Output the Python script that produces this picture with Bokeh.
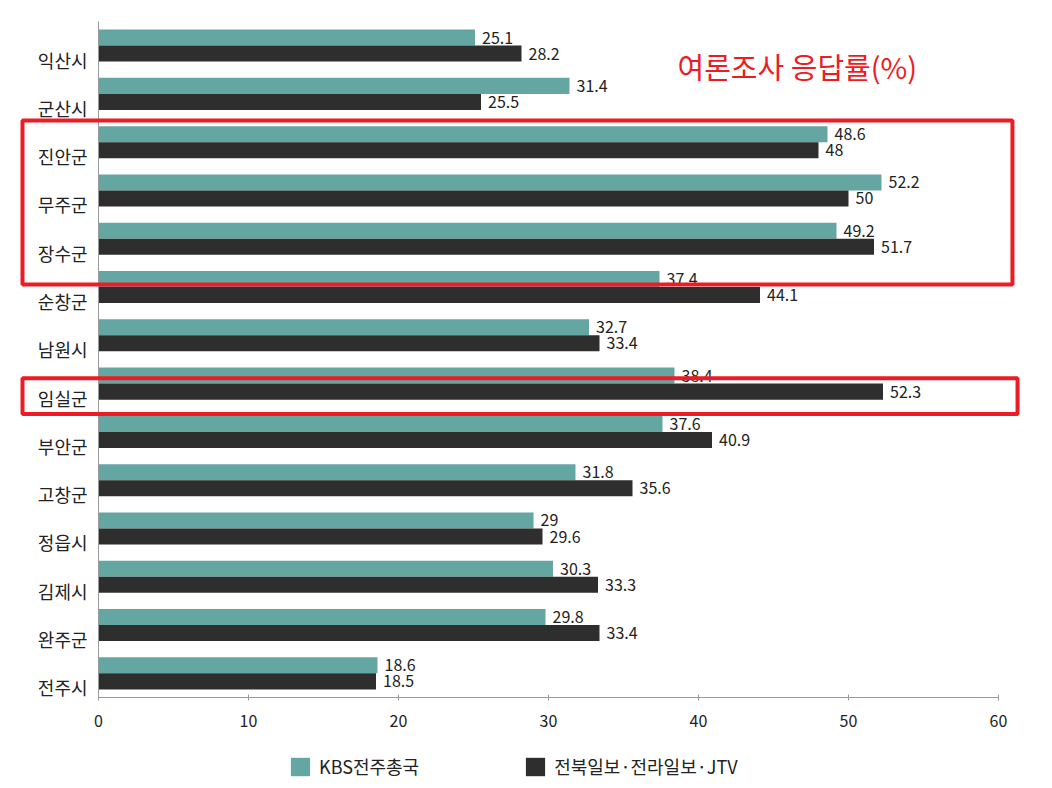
import numpy as np
from bokeh.plotting import figure
from bokeh.models import (Range1d, BoxAnnotation, Label, Legend, LegendItem, ColumnDataSource)
from bokeh.core.properties import value
from bokeh.embed import file_html
from bokeh.resources import INLINE

regions = ["익산시", "군산시", "진안군", "무주군", "장수군", "순창군", "남원시",
           "임실군", "부안군", "고창군", "정읍시", "김제시", "완주군", "전주시"]
kbs = [25.1, 31.4, 48.6, 52.2, 49.2, 37.4, 32.7, 38.4, 37.6, 31.8, 29, 30.3, 29.8, 18.6]
jtv = [28.2, 25.5, 48, 50, 51.7, 44.1, 33.4, 52.3, 40.9, 35.6, 29.6, 33.3, 33.4, 18.5]
series_names = ["KBS전주총국", "전북일보·전라일보·JTV"]
x_ticks = [0, 10, 20, 30, 40, 50, 60]
title_text = "여론조사 응답률(%)"
highlight_groups = [["진안군", "무주군", "장수군"], ["임실군"]]

FONT = "Noto Sans CJK KR"
TEAL = "#64a6a2"
DARK = "#2e2e2e"
RED = "#ed1c24"
AXIS = "#9a9a9a"
TXT = "#222222"

n = len(regions)
centers = np.array([n - 1 - i + 0.5 for i in range(n)])
off = 0.166
bar_h = 0.332

def fmt(v):
    return f"{v:g}"

src = ColumnDataSource(dict(
    region=regions, yc=centers, y_top=centers + off, y_bot=centers - off,
    kbs=kbs, jtv=jtv,
    kbs_lbl=[fmt(v) for v in kbs], jtv_lbl=[fmt(v) for v in jtv],
))

W, H = 1040, 788
x0_px, y0_px = 98, 697          # where value 0 / the bottom axis sits
px_per_x = 15.0
px_per_y = 48.29
p = figure(
    x_range=Range1d(-x0_px / px_per_x, (W - x0_px) / px_per_x),
    y_range=Range1d(-(H - y0_px) / px_per_y, y0_px / px_per_y),
    frame_width=W, frame_height=H,
    min_border=0,
    output_backend="svg", toolbar_location=None,
)
p.outline_line_color = None
p.grid.grid_line_color = None
p.axis.visible = False

r1 = p.hbar(y="y_top", right="kbs", left=0, height=bar_h, source=src,
            fill_color=TEAL, line_color=None)
r2 = p.hbar(y="y_bot", right="jtv", left=0, height=bar_h, source=src,
            fill_color=DARK, line_color=None)

p.text(x="kbs", y="y_top", text="kbs_lbl", source=src, x_offset=7,
       text_baseline="middle", text_align="left",
       text_font=value(FONT), text_font_size="16px", text_color=TXT)
p.text(x="jtv", y="y_bot", text="jtv_lbl", source=src, x_offset=7,
       text_baseline="middle", text_align="left",
       text_font=value(FONT), text_font_size="16px", text_color=TXT)

# category labels (left)
p.text(x=0, y="yc", text="region", source=src, x_offset=-11, y_offset=14,
       text_baseline="middle", text_align="right",
       text_font=value(FONT), text_font_size="18px", text_color=TXT)

# axis lines
p.segment(x0=[0], y0=[0], x1=[0], y1=[n], line_color=AXIS, line_width=1)
p.segment(x0=[x_ticks[0]], y0=[0], x1=[x_ticks[-1]], y1=[0], line_color=AXIS, line_width=1)
# ticks (crossing the axis) and tick labels
tick_src = ColumnDataSource(dict(x=x_ticks, lbl=[str(t) for t in x_ticks]))
p.segment(x0="x", y0=-3 / px_per_y, x1="x", y1=3 / px_per_y, source=tick_src,
          line_color=AXIS, line_width=1)
p.text(x="x", y=0, text="lbl", source=tick_src, y_offset=23,
       text_baseline="middle", text_align="center",
       text_font=value(FONT), text_font_size="16px", text_color=TXT)

# red highlight boxes
def group_top_bottom(group):
    ys = [centers[regions.index(g)] for g in group]
    return max(ys), min(ys)

hi1, lo1 = group_top_bottom(highlight_groups[0])
hi2, lo2 = group_top_bottom(highlight_groups[1])
p.add_layout(BoxAnnotation(left=-76 / px_per_x, right=60.93, top=hi1 + 0.45, bottom=lo1 - 0.95,
                           fill_color=None, fill_alpha=0, line_color=RED, line_alpha=1,
                           line_width=4))
p.add_layout(BoxAnnotation(left=-76 / px_per_x, right=61.27, top=hi2 + 0.11, bottom=lo2 - 0.63,
                           fill_color=None, fill_alpha=0, line_color=RED, line_alpha=1,
                           line_width=4))

p.add_layout(Label(x=38.6, y=n - 0.93, text=title_text, text_color=RED,
                   text_font=FONT, text_font_size="29px",
                   text_baseline="middle", text_align="left"))

legend = Legend(items=[LegendItem(label=series_names[0], renderers=[r1]),
                       LegendItem(label=series_names[1], renderers=[r2])],
                orientation="horizontal", location=(288, 9),
                glyph_width=24, glyph_height=23, label_standoff=7, spacing=104,
                label_text_font=FONT, label_text_font_size="18px",
                label_text_color=TXT, border_line_color=None,
                background_fill_alpha=0, margin=0, padding=0)
p.add_layout(legend)

open("out.html", "w").write(file_html(p, INLINE))
